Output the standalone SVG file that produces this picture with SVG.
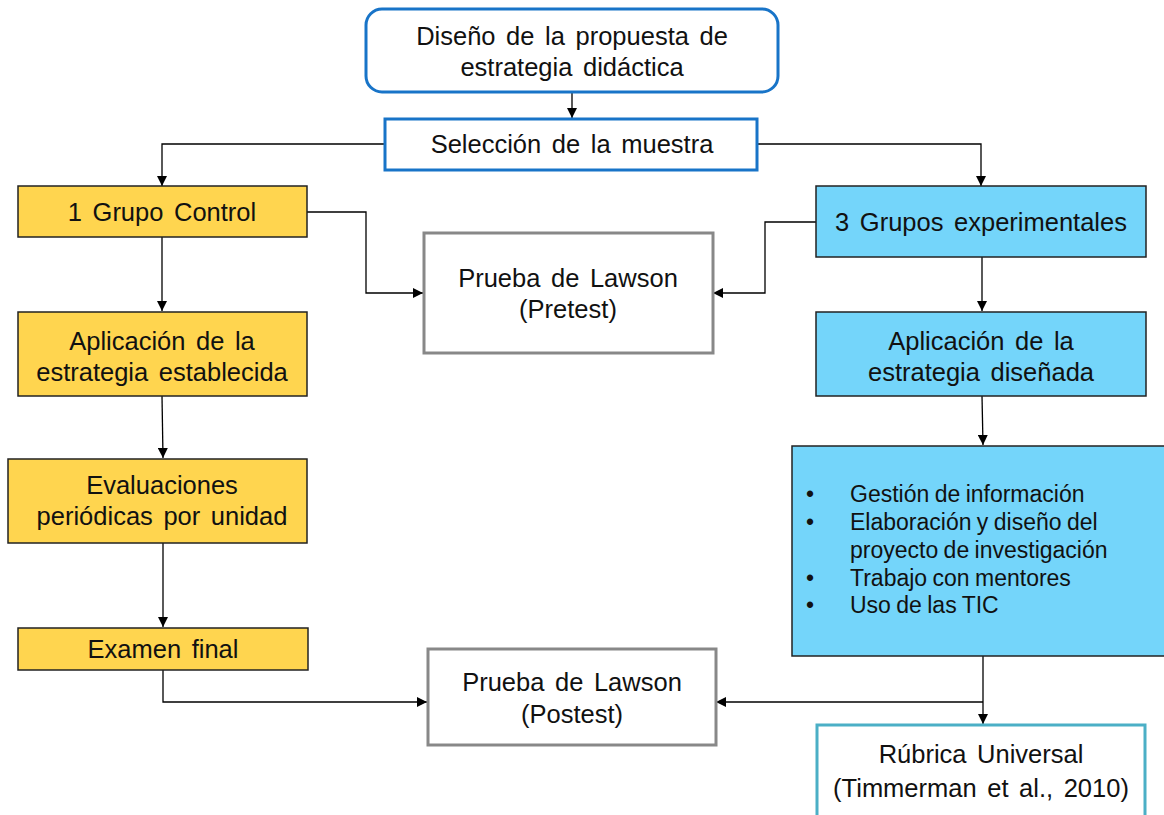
<svg xmlns="http://www.w3.org/2000/svg" width="1164" height="815" viewBox="0 0 1164 815">
<defs>
<marker id="ah" viewBox="0 0 10 10" refX="10" refY="5" markerWidth="10" markerHeight="10" markerUnits="userSpaceOnUse" orient="auto">
<path d="M0,0 L10,5 L0,10 z" fill="#000"/>
</marker>
<style>
text{font-family:"Liberation Sans",Arial,sans-serif;font-size:25.5px;fill:#111;text-anchor:middle;word-spacing:3.5px}
.b{font-size:23px;text-anchor:start;word-spacing:-1px}
.yel{fill:#FFD54F;stroke:#222;stroke-width:1.5}
.cyan{fill:#74D5FA;stroke:#222;stroke-width:1.5}
.gray{fill:#fff;stroke:#888;stroke-width:3}
.blu{fill:#fff;stroke:#1874C8;stroke-width:3}
.teal{fill:#fff;stroke:#4BAFC6;stroke-width:3}
.c{fill:none;stroke:#000;stroke-width:1.3;marker-end:url(#ah)}
</style>
</defs>
<rect width="1164" height="815" fill="#fff"/>
<g id="connectors">
<path class="c" d="M572,92 V118"/>
<path class="c" d="M385,144 H162 V186"/>
<path class="c" d="M757,144 H981 V186"/>
<path class="c" d="M307,212 H366 V293 H423"/>
<path class="c" d="M816,222 H765 V293 H713"/>
<path class="c" d="M162,237 V311"/>
<path class="c" d="M982,257 V311"/>
<path class="c" d="M162,396 L163,458"/>
<path class="c" d="M982,396 L983,445"/>
<path class="c" d="M163,543 V627"/>
<path class="c" d="M163,670 V702 H427"/>
<path class="c" d="M983,702 H716"/>
<path class="c" d="M983,649 V724"/>
</g>
<g id="n-diseno">
<rect class="blu" x="366" y="9" width="412" height="83" rx="16"/>
<text x="572" y="45">Diseño de la propuesta de</text>
<text x="572" y="76">estrategia didáctica</text>
</g>
<g id="n-seleccion">
<rect class="blu" x="385" y="119" width="372" height="51"/>
<text x="572" y="153">Selección de la muestra</text>
</g>
<g id="n-control">
<rect class="yel" x="18" y="186" width="289" height="51"/>
<text x="162" y="221">1 Grupo Control</text>
</g>
<g id="n-pretest">
<rect class="gray" x="424" y="233" width="289" height="120"/>
<text x="568" y="287">Prueba de Lawson</text>
<text x="568" y="318">(Pretest)</text>
</g>
<g id="n-experimentales">
<rect class="cyan" x="816" y="186" width="330" height="71"/>
<text x="981" y="231">3 Grupos experimentales</text>
</g>
<g id="n-aplic-est">
<rect class="yel" x="18" y="312" width="289" height="84"/>
<text x="162" y="350">Aplicación de la</text>
<text x="162" y="381">estrategia establecida</text>
</g>
<g id="n-aplic-dis">
<rect class="cyan" x="816" y="312" width="330" height="84"/>
<text x="981" y="350">Aplicación de la</text>
<text x="981" y="381">estrategia diseñada</text>
</g>
<g id="n-evaluaciones">
<rect class="yel" x="8" y="459" width="299" height="84"/>
<text x="162" y="494">Evaluaciones</text>
<text x="162" y="525">periódicas por unidad</text>
</g>
<g id="n-actividades">
<rect class="cyan" x="792" y="446" width="380" height="210"/>
<text class="b" x="806" y="502">•</text>
<text class="b" x="850" y="502">Gestión de información</text>
<text class="b" x="806" y="530">•</text>
<text class="b" x="850" y="530">Elaboración y diseño del</text>
<text class="b" x="850" y="558">proyecto de investigación</text>
<text class="b" x="806" y="586">•</text>
<text class="b" x="850" y="586">Trabajo con mentores</text>
<text class="b" x="806" y="613">•</text>
<text class="b" x="850" y="613">Uso de las TIC</text>
</g>
<g id="n-examen">
<rect class="yel" x="18" y="628" width="290" height="42"/>
<text x="163" y="658">Examen final</text>
</g>
<g id="n-postest">
<rect class="gray" x="428" y="649" width="288" height="96"/>
<text x="572" y="691">Prueba de Lawson</text>
<text x="572" y="723">(Postest)</text>
</g>
<g id="n-rubrica">
<rect class="teal" x="817" y="725" width="328" height="110"/>
<text x="981" y="763">Rúbrica Universal</text>
<text x="981" y="797">(Timmerman et al., 2010)</text>
</g>
</svg>
